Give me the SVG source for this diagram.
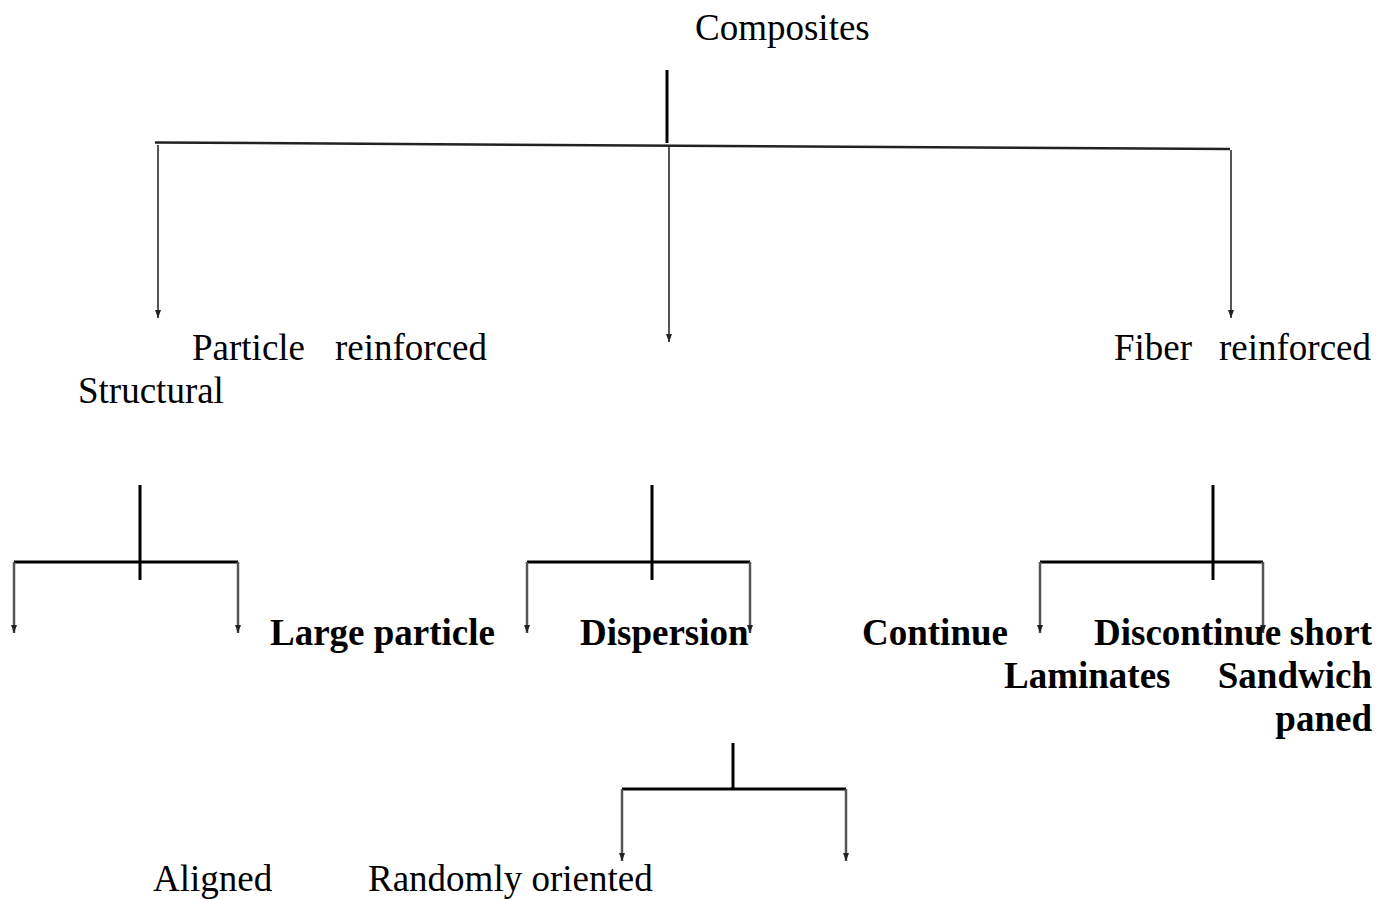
<svg xmlns="http://www.w3.org/2000/svg" width="1386" height="899" viewBox="0 0 1386 899">
<defs>
<marker id="ah" viewBox="0 0 8 6" refX="8" refY="3" markerWidth="8" markerHeight="6" markerUnits="userSpaceOnUse" orient="auto">
<path d="M0,0 L8,3 L0,6 Z" fill="#222"/>
</marker>
</defs>
<style>
.t{font-family:"Liberation Serif","Times New Roman",serif;font-size:37px;fill:#000}
.b{font-weight:bold}
.k{stroke:#000;stroke-width:3;fill:none}
.g{stroke:#555;stroke-width:2.5;fill:none}
.a{stroke:#555;stroke-width:2;fill:none}
</style>
<g id="connectors">
<line class="k" x1="667" y1="70" x2="667" y2="143"/>
<line x1="155" y1="142.5" x2="1230" y2="149" stroke="#222" stroke-width="2.5"/>
<line class="a" x1="158" y1="145" x2="158" y2="318" marker-end="url(#ah)"/>
<line class="a" x1="669" y1="147" x2="669" y2="342" marker-end="url(#ah)"/>
<line class="a" x1="1231" y1="150" x2="1231" y2="318" marker-end="url(#ah)"/>

<line class="k" x1="140" y1="485" x2="140" y2="580"/>
<line class="k" x1="14" y1="562" x2="238" y2="562"/>
<line class="g" x1="14" y1="562" x2="14" y2="633" marker-end="url(#ah)"/>
<line class="g" x1="238" y1="562" x2="238" y2="633" marker-end="url(#ah)"/>

<line class="k" x1="652" y1="485" x2="652" y2="580"/>
<line class="k" x1="527" y1="562" x2="750" y2="562"/>
<line class="g" x1="527" y1="562" x2="527" y2="633" marker-end="url(#ah)"/>
<line class="g" x1="750" y1="562" x2="750" y2="633" marker-end="url(#ah)"/>

<line class="k" x1="1213" y1="485" x2="1213" y2="580"/>
<line class="k" x1="1040" y1="562" x2="1263" y2="562"/>
<line class="g" x1="1040" y1="562" x2="1040" y2="633" marker-end="url(#ah)"/>
<line class="g" x1="1263" y1="562" x2="1263" y2="633" marker-end="url(#ah)"/>

<line class="k" x1="733" y1="743" x2="733" y2="789"/>
<line class="k" x1="622" y1="789" x2="846" y2="789"/>
<line class="g" x1="622" y1="789" x2="622" y2="861" marker-end="url(#ah)"/>
<line class="g" x1="846" y1="789" x2="846" y2="861" marker-end="url(#ah)"/>
</g>
<g id="composites"><text class="t" x="695" y="40">Composites</text></g>
<g id="particle-reinforced"><text class="t" x="192" y="360">Particle</text><text class="t" x="335" y="360">reinforced</text></g>
<g id="structural"><text class="t" x="78" y="403">Structural</text></g>
<g id="fiber-reinforced"><text class="t" x="1114" y="360">Fiber</text><text class="t" x="1219" y="360">reinforced</text></g>
<g id="large-particle"><text class="t b" x="270" y="645">Large particle</text></g>
<g id="dispersion"><text class="t b" x="580" y="645">Dispersion</text></g>
<g id="continue"><text class="t b" x="862" y="645">Continue</text></g>
<g id="discontinue"><text class="t b" x="1094" y="645">Discontinue</text><text class="t b" x="1372" y="645" text-anchor="end">short</text></g>
<g id="laminates"><text class="t b" x="1004" y="688">Laminates</text></g>
<g id="sandwich"><text class="t b" x="1372" y="688" text-anchor="end">Sandwich</text><text class="t b" x="1372" y="731" text-anchor="end">paned</text></g>
<g id="aligned"><text class="t" x="153" y="891">Aligned</text></g>
<g id="randomly"><text class="t" x="368" y="891">Randomly oriented</text></g>
</svg>
